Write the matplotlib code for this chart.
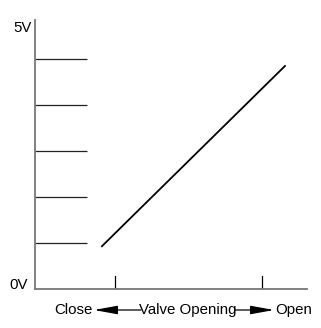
import matplotlib
matplotlib.use("Agg")
import matplotlib.pyplot as plt
from matplotlib.patches import FancyArrowPatch

# signal levels shown as short horizontal steps (volts, arbitrary scale)
step_levels = [1, 2, 3, 4, 5]
step_x = [0, 1.91]
# linear output vs valve opening
line_x = [2.46, 9.19]
line_y = [0.93, 4.85]
tick_positions = [2.94, 8.35]

plt.rcParams["font.family"] = ["Liberation Sans", "DejaVu Sans"]

fig = plt.figure(figsize=(3.21, 3.28), dpi=100)
ax = fig.add_axes([35 / 321, 1 - 289 / 328, (307 - 35) / 321, (289 - 20) / 328])

for lv in step_levels:
    ax.plot(step_x, [lv, lv], color="#222222", lw=0.9, solid_capstyle="butt")
ax.plot(line_x, line_y, color="black", lw=1.3)
for t in tick_positions:
    ax.plot([t, t], [0, 0.28], color="black", lw=0.9)

ax.set_xlim(0, 10)
ax.set_ylim(0, 5.85)
ax.spines["top"].set_visible(False)
ax.spines["right"].set_visible(False)
for s in ("left", "bottom"):
    ax.spines[s].set_color("#777777")
    ax.spines[s].set_linewidth(1.3)
ax.set_xticks([])
ax.set_yticks([])

fs = 10.8
# axis end labels
fig.text(28 / 321, 1 - 285 / 328, "0V", ha="right", va="center", fontsize=fs)
fig.text(32 / 321, 1 - 28 / 328, "5V", ha="right", va="center", fontsize=fs)

# bottom caption with arrows
ty = 1 - 310 / 328
fig.text(73 / 321, ty, "Close", ha="center", va="center", fontsize=fs)
fig.text(188 / 321, ty, "Valve Opening", ha="center", va="center", fontsize=fs)
fig.text(294 / 321, ty, "Open", ha="center", va="center", fontsize=fs)
arrow = dict(arrowstyle="-|>,head_length=1.1,head_width=0.2", lw=0.9,
             color="black", mutation_scale=13, shrinkA=0, shrinkB=0)
fig.add_artist(FancyArrowPatch((141 / 321, ty), (94 / 321, ty),
                               transform=fig.transFigure, **arrow))
fig.add_artist(FancyArrowPatch((235 / 321, ty), (274 / 321, ty),
                               transform=fig.transFigure, **arrow))

fig.savefig("out.png", dpi=100)
